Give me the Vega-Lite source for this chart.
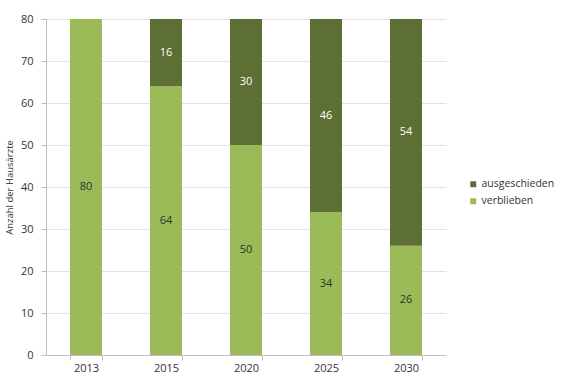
{
  "$schema": "https://vega.github.io/schema/vega-lite/v6.json",
  "autosize": "none",
  "width": 400,
  "height": 336,
  "padding": {"left": 46, "top": 19, "right": 121, "bottom": 19},
  "background": "white",
  "config": {
    "font": "Open Sans",
    "view": {"stroke": null}
  },
  "data": {
    "values": [
      {"jahr": "2013", "status": "verblieben", "anzahl": 80},
      {"jahr": "2015", "status": "verblieben", "anzahl": 64},
      {"jahr": "2015", "status": "ausgeschieden", "anzahl": 16},
      {"jahr": "2020", "status": "verblieben", "anzahl": 50},
      {"jahr": "2020", "status": "ausgeschieden", "anzahl": 30},
      {"jahr": "2025", "status": "verblieben", "anzahl": 34},
      {"jahr": "2025", "status": "ausgeschieden", "anzahl": 46},
      {"jahr": "2030", "status": "verblieben", "anzahl": 26},
      {"jahr": "2030", "status": "ausgeschieden", "anzahl": 54}
    ]
  },
  "transform": [
    {"stack": "anzahl", "groupby": ["jahr"], "sort": [{"field": "status", "order": "descending"}], "as": ["y0", "y1"]},
    {"calculate": "(datum.y0 + datum.y1) / 2", "as": "ymid"}
  ],
  "encoding": {
    "x": {
      "field": "jahr", "type": "ordinal", "title": null,
      "scale": {"paddingInner": 0.6, "paddingOuter": 0.3},
      "axis": {"labelAngle": 0, "labelFontSize": 11, "labelColor": "#333333", "domainColor": "#bfbfbf", "tickColor": "#bfbfbf", "tickBand": "extent", "tickSize": 5, "labelPadding": 2}
    }
  },
  "layer": [
    {
      "mark": {"type": "bar"},
      "encoding": {
        "y": {
          "field": "y0", "type": "quantitative",
          "scale": {"domain": [0, 80], "nice": false},
          "title": "Anzahl der Hausärzte",
          "axis": {"values": [0,10,20,30,40,50,60,70,80], "labelFontSize": 11, "labelColor": "#333333", "gridColor": "#e3e3e3", "domainColor": "#bfbfbf", "tickColor": "#bfbfbf", "tickSize": 5, "labelPadding": 8, "titleFontSize": 9.5, "titleFontWeight": "normal", "titleColor": "#333333", "titlePadding": 6}
        },
        "y2": {"field": "y1"},
        "color": {
          "field": "status", "type": "nominal",
          "scale": {"domain": ["ausgeschieden", "verblieben"], "range": ["#5D6F32", "#9BBB59"]},
          "legend": {"title": null, "orient": "none", "legendX": 422, "legendY": 160, "symbolType": "square", "symbolSize": 36, "labelFontSize": 10.5, "labelColor": "#333333", "rowPadding": 6, "labelOffset": 3}
        }
      }
    },
    {
      "mark": {"type": "text", "fontSize": 11},
      "encoding": {
        "y": {"field": "ymid", "type": "quantitative"},
        "text": {"field": "anzahl", "type": "quantitative"},
        "color": {"condition": {"test": "datum.status === 'ausgeschieden'", "value": "#ffffff"}, "value": "#303030"}
      }
    }
  ]
}
